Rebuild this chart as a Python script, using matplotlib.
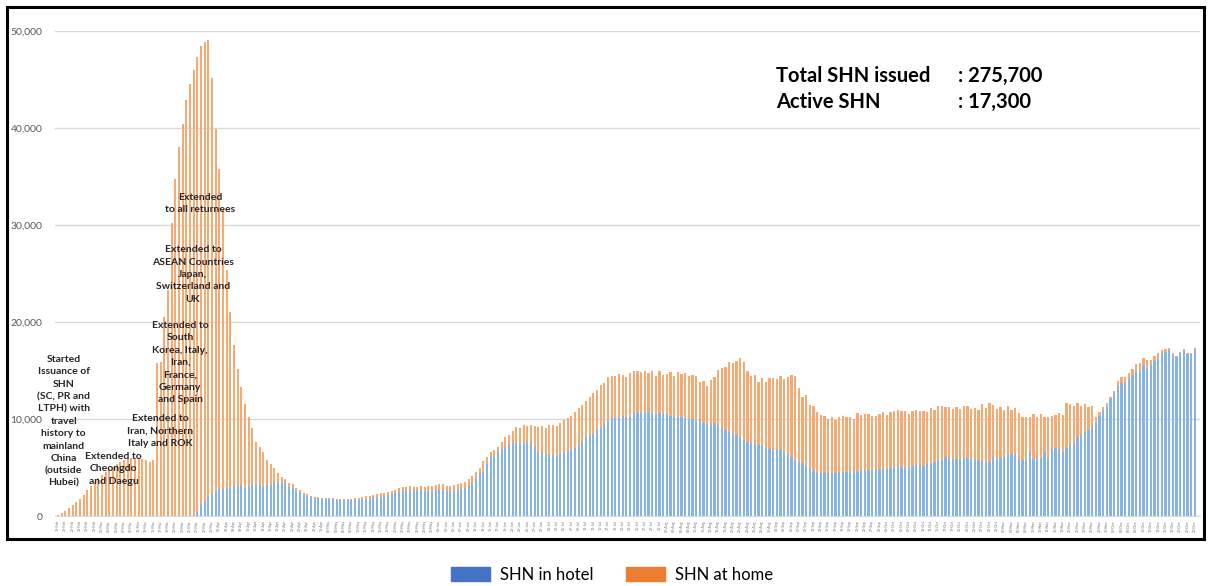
import matplotlib
matplotlib.use("Agg")
from matplotlib import pyplot as plt
from matplotlib.patches import Patch, Rectangle
import numpy as np
import pandas as pd

# active SHN per day
hotel = [0] * 38 + [
    400, 1100, 1500, 2000, 2300, 2600, 2800, 2800, 2900,
    3000, 3100, 3100, 3200, 2900, 3100, 3200, 3300, 3300, 3000, 3200, 3200, 3400, 3500, 3400, 3400, 3000, 2900, 2700,
    2500, 2200, 2100, 2000, 1900, 1900, 1800, 1800, 1800, 1800, 1700, 1650, 1650, 1650, 1700, 1700, 1700, 1800,
    1800, 1800, 1850, 1900, 2000, 2100, 2200, 2300, 2400, 2500, 2550, 2600, 2600, 2650, 2650, 2650, 2600, 2600,
    2600, 2650, 2700, 2700, 2600, 2600, 2600, 2700, 2800, 2900, 3100, 3400, 3800, 4400, 4500, 5400, 6100, 6200,
    6600, 6900, 7100, 7300, 7500, 7500, 7500, 7500, 7600, 7600, 7100, 6600, 6500, 6300, 6400, 6300, 6200, 6400,
    6600, 6700, 6800, 7000, 7300, 7600, 8100, 8300, 8500, 8900,
    9100, 9500, 9900, 10100, 10100, 10100, 10300, 10200, 10200, 10600, 10700, 10700, 10700, 10700, 10600, 10500,
    10600, 10500, 10500, 10300, 10300, 10200, 10200, 10100, 10000, 10000, 9800, 10000, 9600, 9500, 9400, 9600,
    9400, 9200, 8900, 8700, 8500, 8300, 8100, 7800, 7600, 7500, 7400, 7300, 7200, 7000, 6900, 6800, 6800, 6800,
    6600, 6400, 6100, 5800, 5600, 5500, 5200, 4900, 4600, 4400, 4400, 4400, 4400, 4400, 4400, 4500, 4500, 4500,
    4500, 4600, 4600, 4700, 4700, 4700, 4800, 4800, 4800, 4900, 4800, 5000, 5100, 5200,
    5100, 5100, 5100, 5200, 5300, 5300, 5200, 5500, 5500, 5600, 5800, 5900, 6100, 6000, 5900, 5900, 5900, 6000,
    6000, 5900, 5900, 5800, 5700, 5600, 5600, 6100, 5900, 6000, 6100, 6400, 6400, 6400, 5800, 5800, 5800, 6600,
    5900, 6000, 6000, 6600, 6000, 6900, 7000, 6900, 6600, 7000, 7300, 7500, 8100, 8300, 8700, 8900, 9300, 9700,
    10300, 10900, 11300, 12100, 12700, 13400, 13700, 13700, 14100, 14500, 15000, 15000, 15600, 15200, 15600,
    16000, 16300, 16800, 16900, 17100, 16600, 16400, 16800, 17000, 16700, 16700, 17200,
]

home = [
    100, 300, 500, 800, 1100, 1400, 1800, 2200, 2700, 3100, 3500, 3900, 4200, 4500, 4900, 5100, 5400, 5600,
    5800, 5900, 6000, 6000, 6000, 5900, 5800, 5600, 5800,
    15800, 15900, 20500, 23300,
    30200, 34700, 38000, 40400, 42900, 44500, 46000, 46900, 47400, 47400, 47100, 42900, 37300, 33000, 28700, 22500,
    18000, 14500, 12100, 10100, 8600, 7100, 5900, 4300, 3800, 3600, 2600, 2200, 1500, 900, 600, 400, 400, 400, 200,
    200, 200, 200, 100, 100, 100, 100, 100, 100, 100, 100, 150, 150, 150, 100, 150, 200, 200,
    250, 300, 350, 400, 350, 300, 300, 300, 300, 400, 400, 400, 450, 350, 350, 400, 400, 450,
    500, 550, 600, 600, 500, 500, 550, 600, 600, 600, 700, 700, 700, 500, 1200, 700, 500, 600,
    500, 700, 1000, 1000, 1300, 1700, 1600, 1900, 1700, 1800, 2200, 2600, 2800, 2800, 3000, 3100, 3100, 3200,
    3300, 3400, 3500, 3700, 3800, 3800, 3800, 4000, 4200, 4100,
    4400, 4200, 4400, 4300, 4300, 4500, 4200, 4100, 4500, 4300, 4200, 4100, 4300, 4000, 4300, 3900,
    4400, 4000, 4100, 4500, 4100, 4600, 4400, 4600, 4400, 4500, 4600, 3800, 4300, 3900, 4600, 4700,
    5700, 6100, 6500, 7200, 7300, 7700, 8200, 8100, 7400, 6900, 7100, 6500, 7000, 6800, 7300, 7400, 7300, 7600,
    7500, 7900, 8400, 8600, 7600, 6800, 7300, 6500, 6700, 6300, 6000, 5900, 5600, 5800, 5500, 5700, 5800, 5700,
    5700, 5400, 6000, 5700, 5800, 5800, 5500, 5500, 5700, 5800, 5600, 5700, 5700, 5700,
    5700, 5700, 5400, 5600, 5600, 5500, 5600, 5200, 5600, 5300, 5500, 5400, 5100, 5200, 5100, 5300, 5100, 5300,
    5300, 5100, 5200, 5100, 5800, 5500, 6000, 5300, 5100, 5200, 4800, 4900, 4500, 4700, 4800, 4400, 4400, 3600,
    4600, 4200, 4500, 3600, 4200, 3400, 3400, 3700, 3800, 4600, 4200, 3800, 3500, 3000, 2800, 2300, 2000, 500,
    400, 300, 300, 200, 200, 500, 600, 600, 600, 700, 700, 800, 700, 900, 500,
    500, 500, 300, 300, 200, 200, 100, 100, 200, 100, 100, 100,
]

dates = pd.date_range("2020-02-18", periods=len(home), freq="D")
date_labels = [d.strftime("%d-%b") for d in dates]

total_issued = "275,700"
active_now = "17,300"

notes = [
    ("Started\nIssuance of\nSHN\n(SC, PR and\nLTPH) with\ntravel\nhistory to\nmainland\nChina\n(outside\nHubei)", 1.6, 16600),
    ("Extended to\nCheongdo\nand Daegu", 15.2, 6600),
    ("Extended to\nIran, Northern\nItaly and ROK", 27.8, 10500),
    ("Extended to\nSouth\nKorea, Italy,\nIran,\nFrance,\nGermany\nand Spain", 33.3, 20100),
    ("Extended to\nASEAN Countries\nJapan,\nSwitzerland and\nUK", 36.8, 27900),
    ("Extended\nto all returnees", 38.7, 33300),
]

plt.rcParams['font.family'] = ['Lato', 'DejaVu Sans']

fig = plt.figure(figsize=(12.12, 5.86), dpi=100)
ax = fig.add_axes([55 / 1212, 1 - 516 / 586, 1145 / 1212, 485 / 586])

x = np.arange(len(home))
ax.bar(x, hotel, width=0.6, color="#86b3e6", linewidth=0)
ax.bar(x, home, width=0.6, bottom=hotel, color="#f6aa72", linewidth=0)

ax.set_xlim(-0.8, 311.4)
ax.set_ylim(0, 50000)
ax.set_yticks(range(0, 50001, 10000))
ax.set_yticklabels([f"{v:,}" for v in range(0, 50001, 10000)], fontsize=7.5, color="#595959")
ax.yaxis.grid(True, color="#d9d9d9", linewidth=1)
ax.set_axisbelow(True)
ax.tick_params(axis="y", length=0, pad=9)
for s in ["top", "right", "left"]:
    ax.spines[s].set_visible(False)
ax.spines["bottom"].set_color("#d9d9d9")

ax.set_xticks(x[::2])
ax.set_xticklabels(date_labels[::2], rotation=90, fontsize=2.5, color="#707070")
ax.tick_params(axis="x", length=0, pad=3)

# one text per line so that the centred lines keep their own extent
line_step = 8.9  # points
for txt, xi, yv in notes:
    for k, line in enumerate(txt.split("\n")):
        ax.annotate(line, (xi, yv), xytext=(0, -k * line_step), textcoords="offset points",
                    ha="center", va="top", fontsize=7.5, fontweight="bold", color="#262626")

fig.text(776 / 1212, 1 - 76 / 586, "Total SHN issued", fontsize=14.5, fontweight="bold", va="center")
fig.text(958 / 1212, 1 - 76 / 586, ": " + total_issued, fontsize=14.5, fontweight="bold", va="center")
fig.text(776 / 1212, 1 - 102 / 586, "Active SHN", fontsize=14.5, fontweight="bold", va="center")
fig.text(958 / 1212, 1 - 102 / 586, ": " + active_now, fontsize=14.5, fontweight="bold", va="center")

fig.patches.append(Rectangle((7 / 1212, 1 - 539 / 586), 1197 / 1212, 532 / 586,
                             transform=fig.transFigure, fill=False, edgecolor="black", linewidth=2.2))

handles = [Patch(color="#4472c4", label="SHN in hotel"), Patch(color="#ed7d31", label="SHN at home")]
fig.legend(handles=handles, loc="center", bbox_to_anchor=(612 / 1212, 1 - 575 / 586), ncol=2,
           frameon=False, fontsize=12, handlelength=2.3, handleheight=0.9, handletextpad=0.6,
           columnspacing=2.0)

fig.savefig("out.png", dpi=100)
plt.close()
